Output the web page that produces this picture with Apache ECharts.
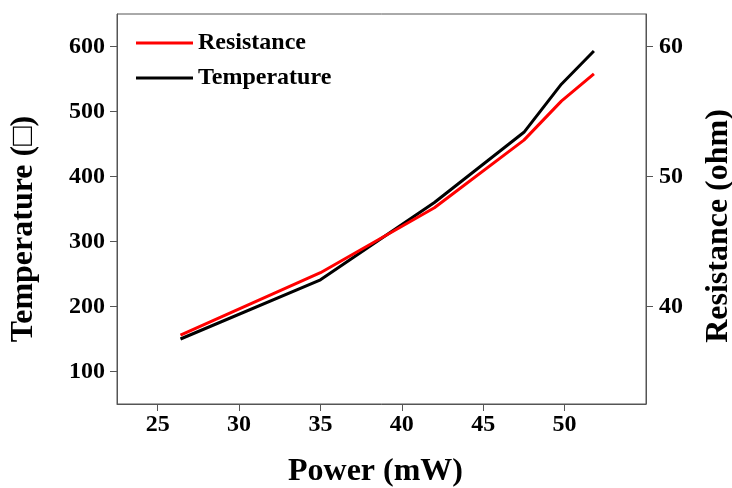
<!DOCTYPE html>
<html>
<head>
<meta charset="utf-8">
<script src="https://cdn.jsdelivr.net/npm/echarts@6/dist/echarts.min.js"></script>
<style>html,body{margin:0;padding:0;background:#fff;}#c{width:732px;height:488px;}</style>
</head>
<body>
<div id="c"></div>
<script>
const power = [26.4, 35.0, 42.0, 47.5, 49.8, 51.8];
const resistance = [37.8, 42.6, 47.6, 52.8, 55.8, 57.9];
const temperature = [150, 241, 360, 468, 542, 593];
const xTicks = [25, 30, 35, 40, 45, 50];
const tempTicks = [100, 200, 300, 400, 500, 600];
const resTicks = [40, 50, 60];

const FONT = '"Liberation Serif", "Times New Roman", serif';
const AX = '#555';
const chart = echarts.init(document.getElementById('c'));
const axisCommon = {
  axisLine: {show: true, lineStyle: {color: AX, width: 1}},
  splitLine: {show: false},
};
chart.setOption({
  animation: false,
  backgroundColor: '#fff',
  grid: {left: 117, right: 86, top: 14, bottom: 84, containLabel: false, outerBoundsMode: 'none',
         show: true, borderColor: AX, borderWidth: 1},
  legend: {
    orient: 'vertical', left: 131, top: 26, itemGap: 11,
    icon: 'rect', itemWidth: 57, itemHeight: 3,
    data: ['Resistance', 'Temperature'],
    textStyle: {fontFamily: FONT, fontWeight: 'bold', fontSize: 24, color: '#000'}
  },
  xAxis: Object.assign({}, axisCommon, {
    type: 'value', min: 22.5, max: 55,
    name: 'Power (mW)', nameLocation: 'middle', nameGap: 52,
    nameTextStyle: {fontFamily: FONT, fontWeight: 'bold', fontSize: 32, color: '#000', padding: [0, 12, 0, 0]},
    axisTick: {show: true, inside: false, length: 7, lineStyle: {color: AX}, customValues: xTicks},
    axisLabel: {margin: 9, fontFamily: FONT, fontWeight: 'bold', fontSize: 24, color: '#000', customValues: xTicks}
  }),
  yAxis: [
    Object.assign({}, axisCommon, {
      type: 'value', position: 'left', min: 50, max: 650,
      name: 'Temperature (□)', nameLocation: 'middle', nameGap: 77, nameRotate: 90,
      nameTextStyle: {fontFamily: FONT, fontWeight: 'bold', fontSize: 32, color: '#000', padding: [0, 40, 0, 0]},
      axisTick: {show: true, length: 7, lineStyle: {color: AX}, customValues: tempTicks},
      axisLabel: {margin: 12, fontFamily: FONT, fontWeight: 'bold', fontSize: 24, color: '#000', customValues: tempTicks}
    }),
    Object.assign({}, axisCommon, {
      type: 'value', position: 'right', min: 32.5, max: 62.5,
      name: 'Resistance (ohm)', nameLocation: 'middle', nameGap: 57, nameRotate: 90,
      nameTextStyle: {fontFamily: FONT, fontWeight: 'bold', fontSize: 32, color: '#000', padding: [0, 34, 0, 0]},
      axisTick: {show: true, length: 7, lineStyle: {color: AX}, customValues: resTicks},
      axisLabel: {margin: 13, fontFamily: FONT, fontWeight: 'bold', fontSize: 24, color: '#000', customValues: resTicks}
    })
  ],
  series: [
    {
      name: 'Temperature', type: 'line', yAxisIndex: 0, showSymbol: false, symbol: 'none',
      lineStyle: {color: '#000', width: 3}, itemStyle: {color: '#000'},
      data: power.map((p, i) => [p, temperature[i]])
    },
    {
      name: 'Resistance', type: 'line', yAxisIndex: 1, showSymbol: false, symbol: 'none',
      lineStyle: {color: '#f00', width: 3}, itemStyle: {color: '#f00'},
      data: power.map((p, i) => [p, resistance[i]])
    }
  ]
});
</script>
</body>
</html>
